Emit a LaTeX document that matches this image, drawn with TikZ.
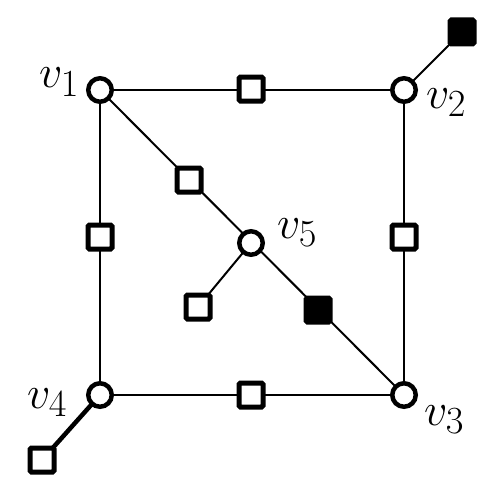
\documentclass[tikz,border=0pt]{standalone}
\usepackage{graphicx}
\begin{document}
\begin{tikzpicture}[x=1pt,y=-1pt,
  vert/.style={circle,draw,line width=4.5pt,fill=white,minimum size=23.5pt,inner sep=0pt},
  sq/.style={rectangle,draw,line width=5pt,fill=white,minimum size=24pt,inner sep=0pt,rounded corners=1.5pt},
  fsq/.style={sq,fill=black},
  edge/.style={line width=2pt},
  thickedge/.style={line width=4.5pt},
  lab/.style={inner sep=0pt,anchor=base west}]
\newcommand{\biglab}[1]{\scalebox{1.85}{\Huge$#1$}}
\useasboundingbox (0,0) rectangle (492,495);
\coordinate (v1c) at (100,90);
\coordinate (v2c) at (404,90);
\coordinate (v3c) at (404,395);
\coordinate (v4c) at (100,395);
\coordinate (v5c) at (251,243);
% edges
\draw[edge] (v1c) -- (v2c) -- (v3c) -- (v4c) -- (v1c);
\draw[edge] (v1c) -- (v3c);
\draw[edge] (v5c) -- (198,307);
\draw[edge] (v2c) -- (462,32);
\draw[thickedge] (v4c) -- (42,460);
% vertices
\node[vert] (v1) at (v1c) {};
\node[vert] (v2) at (v2c) {};
\node[vert] (v3) at (v3c) {};
\node[vert] (v4) at (v4c) {};
\node[vert] (v5) at (v5c) {};
% squares
\node[sq] (s12) at (251,89) {};
\node[sq] (s23) at (404,237) {};
\node[sq] (s34) at (251,395) {};
\node[sq] (s41) at (100,237) {};
\node[sq] (s15) at (189,180) {};
\node[fsq] (s53) at (318,310) {};
\node[sq] (s5) at (198,307) {};
\node[fsq] (s2) at (462,32) {};
\node[sq] (s4) at (42,460) {};
% labels
\node[lab] (l1) at (39,88) {\biglab{v_1}};
\node[lab] (l2) at (426,108) {\biglab{v_2}};
\node[lab] (l3) at (424,425) {\biglab{v_3}};
\node[lab] (l4) at (27,408) {\biglab{v_4}};
\node[lab] (l5) at (277,238) {\biglab{v_5}};
\end{tikzpicture}
\end{document}
